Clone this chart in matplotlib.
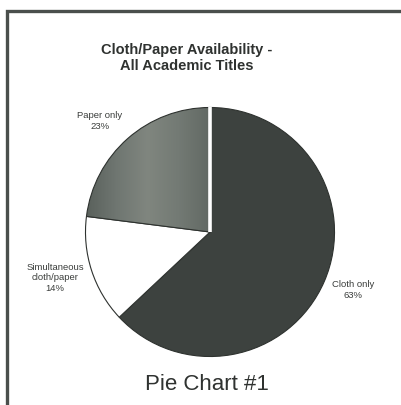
import numpy as np
import matplotlib.pyplot as plt
from matplotlib.colors import LinearSegmentedColormap

labels = ["Cloth only", "Simultaneous\ncloth/paper", "Paper only"]
shares = [63, 14, 23]
colors = ["#3d423f", "#ffffff", "#6f7671"]

plt.rcParams["font.family"] = ["Liberation Sans", "DejaVu Sans"]

W, H = 402, 405
fig = plt.figure(figsize=(W / 100, H / 100), dpi=100)
fig.patch.set_facecolor("white")

# outer frame (only top and left edges fall inside the page)
frame = fig.add_axes([0, 0, 1, 1])
frame.set_xlim(0, W)
frame.set_ylim(H, 0)
frame.axis("off")
frame.plot([7.5, 7.5, W + 5], [H + 5, 10.5, 10.5], color="#4a4f4c", lw=2.4,
           solid_joinstyle="miter")

cx, cy, r = 210, 232, 127
ax = fig.add_axes([(cx - r) / W, (H - cy - r) / H, 2 * r / W, 2 * r / H])
wedges, _ = ax.pie(shares, colors=colors, startangle=90, counterclock=False,
                   wedgeprops=dict(edgecolor="#2e322f", linewidth=0.8))
ax.set_xlim(-1.02, 1.02)
ax.set_ylim(-1.02, 1.02)
ax.set_aspect("equal")

# shaded fill on the paper-only slice
shade = LinearSegmentedColormap.from_list(
    "shade", ["#59605b", "#6f7671", "#80867f", "#737a74", "#626964"])
grad = np.tile(np.linspace(0, 1, 256), (64, 1))
img = ax.imshow(grad, cmap=shade, extent=[-1, 0, 0, 1], aspect="auto",
                interpolation="bilinear", zorder=1.5)
img.set_clip_path(wedges[2])
wedges[2].set_facecolor("none")
wedges[2].set_zorder(2)

# white gap along the slice boundary at the top
ang = np.deg2rad(90)
ax.plot([0, np.cos(ang)], [0, np.sin(ang)], color="white", lw=2.6,
        solid_capstyle="butt", zorder=3)

text_c = "#3a3d3b"
pos = [(353, 290), (55, 278), (100, 121)]
for lab, val, (x, y) in zip(labels, shares, pos):
    fig.text(x / W, 1 - y / H, f"{lab}\n{val}%", ha="center", va="center",
             fontsize=6.8, color=text_c, linespacing=1.15)

fig.text(187 / W, 1 - 58 / H, "Cloth/Paper Availability -\nAll Academic Titles",
         ha="center", va="center", fontsize=10.5, fontweight="bold",
         color="#2f3230", linespacing=1.2)
fig.text(207 / W, 1 - 384 / H, "Pie Chart #1", ha="center", va="center",
         fontsize=16, color="#2f3230")

fig.savefig("out.png", dpi=100)
